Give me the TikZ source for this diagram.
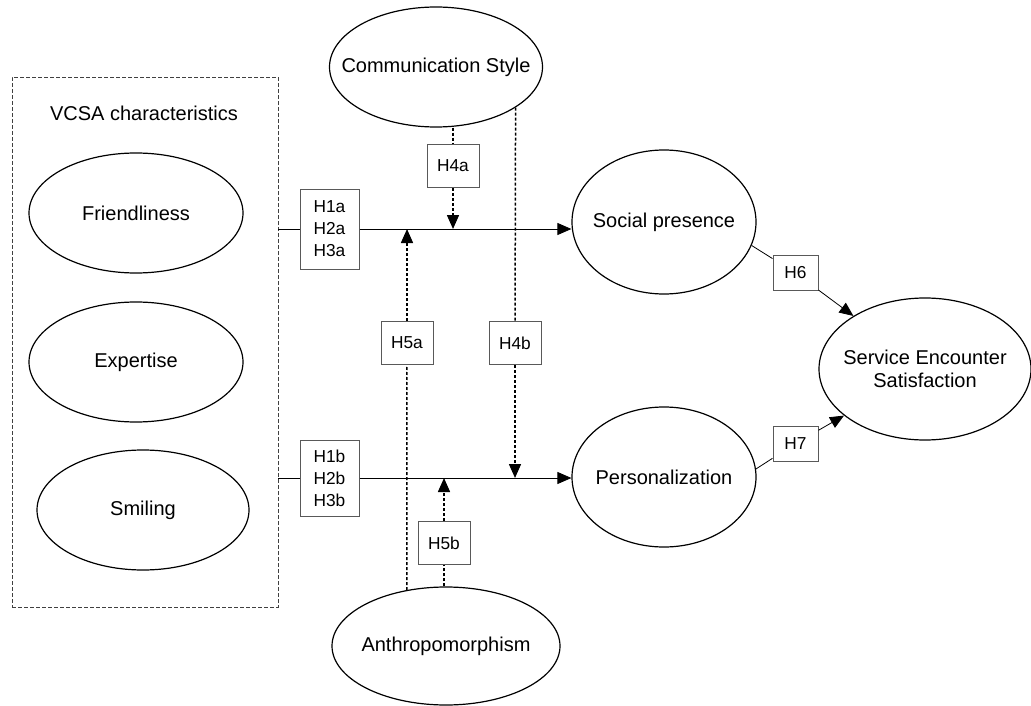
\documentclass[tikz,border=0pt]{standalone}
\usepackage{fontspec}
\setmainfont{Liberation Sans}
\usetikzlibrary{shapes.geometric,arrows.meta,positioning}

\begin{document}
\begin{tikzpicture}[x=1pt,y=-1pt,
  every text node part/.style={align=center},
  >={Triangle[length=14pt,width=12pt]},
  construct/.style={draw, shape=ellipse, line width=1.2pt, inner xsep=-25pt, inner ysep=0pt,
    font=\fontsize{20}{23}\selectfont},
  hyp/.style={draw=black!65, shape=rectangle, line width=1pt, fill=white, inner sep=0pt,
    font=\fontsize{17.3}{22}\selectfont},
  modline/.style={line width=1.5pt, dash pattern=on 3pt off 2pt},
  effect/.style={line width=0.8pt}]
  \useasboundingbox (0,0) rectangle (1031,706);
  \node (vcsa) [draw=black!75, dash pattern=on 4pt off 2pt, line width=0.8pt, minimum width=266, minimum height=530] at (145,342) {};
  \node (vcsatitle) [font=\fontsize{20}{23}\selectfont] at (144,113) {VCSA characteristics};
  \node (friend) [construct, minimum width=214, minimum height=120] at (136,213) {Friendliness};
  \node (expert) [construct, minimum width=214, minimum height=120] at (136,362) {Expertise};
  \node (smile) [construct, minimum width=212, minimum height=120] at (143,510) {Smiling};
  \node (comm) [construct, minimum width=213, minimum height=120] at (436,67) {Communication Style};
  \node (anthro) [construct, minimum width=228, minimum height=118] at (446,646) {Anthropomorphism};
  \node (social) [construct, minimum width=184, minimum height=144] at (664,222) {Social presence};
  \node (person) [construct, minimum width=184, minimum height=140] at (664,477) {Personalization};
  \node (satis) [construct, minimum width=212, minimum height=142] at (925,369) {Service Encounter \\ Satisfaction};

  \node (h1a) [hyp, minimum width=59, minimum height=80] at (329.5,229) {H1a \\ H2a \\ H3a};
  \node (h1b) [hyp, minimum width=59, minimum height=76] at (329.5,478) {H1b \\ H2b \\ H3b};
  \node (h4a) [hyp, minimum width=52, minimum height=43] at (453,166) {H4a};
  \node (h4b) [hyp, minimum width=52, minimum height=43] at (515,343) {H4b};
  \node (h5a) [hyp, minimum width=52, minimum height=43] at (407,343) {H5a};
  \node (h5b) [hyp, minimum width=52, minimum height=43] at (444,543) {H5b};
  \node (h6) [hyp, minimum width=45, minimum height=35] at (795.5,273) {H6};
  \node (h7) [hyp, minimum width=45, minimum height=35] at (795.5,443.5) {H7};

  \draw[effect] (vcsa.east |- h1a) -- (h1a);
  \draw[effect, ->] (h1a) -- (h1a -| social.west);
  \draw[effect] (vcsa.east |- h1b) -- (h1b);
  \draw[effect, ->] (h1b) -- (h1b -| person.west);
  \draw[modline] (h4a |- comm.south) -- (h4a);
  \draw[modline, ->] (h4a) -- (h4a |- h1a);
  \draw[modline] (comm.-27) -- (h4b);
  \draw[modline, ->] (h4b) -- (h4b |- h1b);
  \draw[modline] (anthro.125) -- (h5a);
  \draw[modline, ->] (h5a) -- (h5a |- h1a);
  \draw[modline] (h5b |- anthro.north) -- (h5b);
  \draw[modline, ->] (h5b) -- (h5b |- h1b);
  \draw[effect] (social.-15) -- (h6);
  \draw[effect, ->] (h6) -- (satis);
  \draw[effect] (person.5) -- (h7);
  \draw[effect, ->] (h7) -- (satis);
\end{tikzpicture}
\end{document}
